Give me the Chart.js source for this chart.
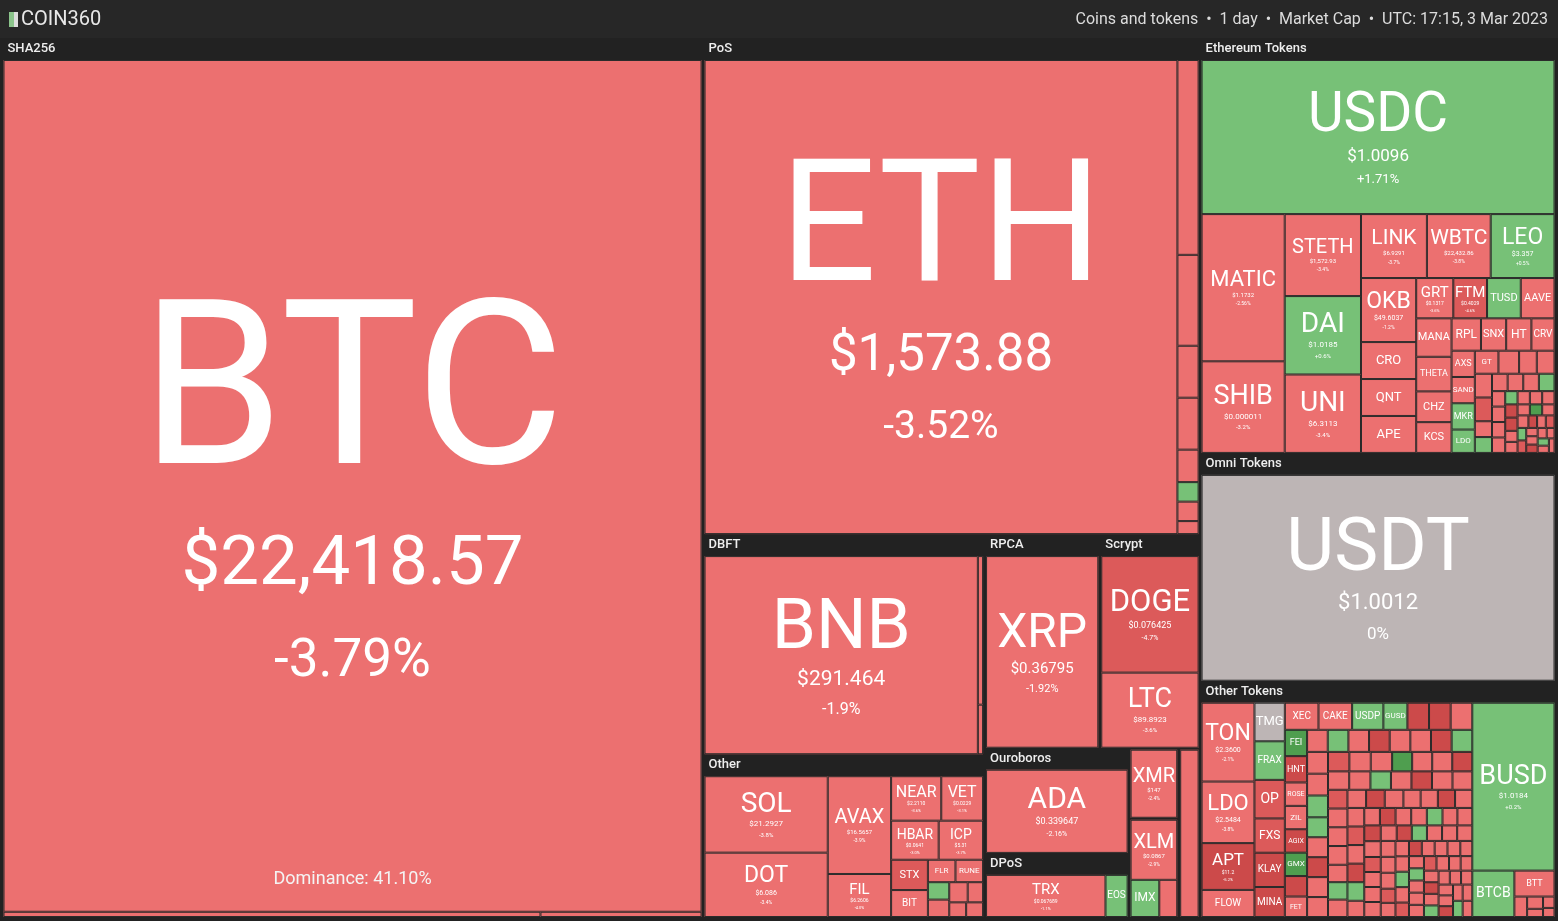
<!DOCTYPE html>
<html><head><meta charset="utf-8">
<script src="https://cdn.jsdelivr.net/npm/chart.js@4/dist/chart.umd.min.js"></script>
<style>html,body{margin:0;padding:0;background:#222;overflow:hidden}#wrap{width:1558px;height:921px}</style>
</head><body><div id="wrap"><canvas id="c"></canvas></div>
<script>
const groupNames = ["SHA256","PoS","Ethereum Tokens","Omni Tokens","DBFT","Other Tokens","Other","RPCA","Scrypt","Ouroboros","DPoS","CryptoNight","Ethash","SCP"];
// [symbol, market cap (area, $B), price label, change %]
const SHA256 = [["BTC",423,"$22,418.57",-3.79],["BCH",2.0,"",-3.1],["BSV",0.6,"",-2.8]];
const PoS = [["ETH",163,"$1,573.88",-3.52],["ATOM",3.0,"",-2.9],["ALGO",1.4,"",-4.1],["XTZ",0.8,"",-3.3],["EGLD",0.8,"",-3.6],["MIOTA",0.5,"",-2.4],["KAVA",0.3,"",1.2],["ROSE",0.3,"",-3.0],["ONE",0.2,"",-2.2]];
const EthTokens = [["USDC",40,"$1.0096",1.71],["MATIC",9.0,"$1.1732",-2.56],["SHIB",5.6,"$0.000011",-3.2],["STETH",4.6,"$1,572.93",-3.4],["DAI",4.4,"$1.0185",0.6],["UNI",4.4,"$6.3113",-3.4],["LINK",3.1,"$6.9291",-3.7],["WBTC",3.0,"$22,432.86",-3.8],["LEO",3.0,"$3.357",0.5],["OKB",2.6,"$49.6037",-1.2],["CRO",1.5,"$0.0659",-3.0],["QNT",1.5,"$139.23",-2.9],["APE",1.5,"$4.8773",-4.1],["GRT",1.1,"$0.1317",-3.6],["FTM",1.0,"$0.4029",-4.6],["TUSD",1.0,"$1.00",0.1],["AAVE",1.0,"$80.91",-3.3],["MANA",1.0,"$0.569",-3.9],["THETA",0.9,"$1.07",-3.2],["CHZ",0.8,"$0.13",-2.5],["KCS",0.8,"$9.10",-1.8],["RPL",0.7,"$44.8",-2.1],["SNX",0.6,"$2.60",-4.0],["HT",0.6,"$4.5",-1.1],["CRV",0.55,"$0.93",-3.7],["AXS",0.45,"",-4.1],["SAND",0.45,"",-4.0],["MKR",0.45,"",1.4],["LDO2",0.4,"",2.1],["GT",0.4,"",-1.0],["1INCH",0.35,"",-3.0],["ENJ",0.3,"",-4.0],["FTT",0.3,"",-2.0],["BAT",0.3,"",-3.3],["IMX2",0.3,"",-5.0],["ZRX",0.2,"",-2.5],["BNT",0.2,"",1.1],["LRC",0.2,"",-3.5],["COMP",0.2,"",-2.9],["YFI",0.2,"",-2.0],["GNO",0.2,"",0.8],["OCEAN",0.15,"",-4.2],["BAL",0.15,"",-3.1],["SUSHI",0.15,"",-3.8],["ANKR",0.15,"",-3.6],["UMA",0.12,"",1.5],["AMP",0.12,"",-2.4],["GLM",0.12,"",-3.0],["CVX",0.12,"",-2.2],["RNDR",0.12,"",-6.0],["ENS",0.12,"",-5.2],["MASK",0.1,"",-3.1],["OMG",0.1,"",-2.8],["KNC",0.1,"",-4.4],["STORJ",0.1,"",3.2],["NEXO",0.1,"",-1.4],["POLY",0.1,"",-3.9],["API3",0.08,"",-6.1],["AUDIO",0.08,"",-3.5],["SKL",0.08,"",-4.8],["ILV",0.08,"",2.2],["GALA",0.08,"",-4.6],["CELR",0.07,"",-3.3],["SLP",0.07,"",-2.9],["REN",0.07,"",-5.5],["BAND",0.07,"",-3.2],["COTI",0.06,"",-4.0],["POWR",0.06,"",1.8],["RLC",0.06,"",-3.6],["TRB",0.06,"",-2.6]];
const Omni = [["USDT",56,"$1.0012",0]];
const DBFT = [["BNB",42,"$291.464",-1.9],["NEO",0.6,"",-2.7],["ONT",0.2,"",-2.0]];
const OtherTokens = [["TON",3.2,"$2.3600",-2.1],["LDO",2.5,"$2.5484",-3.8],["APT",1.9,"$11.2",-5.2],["FLOW",1.1,"$0.96",-3.3],["TMG",0.9,"$9.9",0],["FRAX",0.9,"$1.00",0.2],["OP",0.9,"$2.5",-4.8],["FXS",0.8,"$10.1",-5.0],["KLAY",0.8,"$0.24",-5.1],["MINA",0.7,"$0.81",-5.6],["XEC",0.7,"$0.00003",-2.4],["USDP",0.65,"",1.1],["CAKE",0.7,"$3.8",-2.2],["GUSD",0.5,"",0.2],["CFX",0.45,"",-9.0],["RUNE",0.45,"",-5.1],["IOTX",0.45,"",-3.0],["FEI",0.45,"",3.3],["HNT",0.45,"",-5.2],["ROSE2",0.4,"",-2.9],["ZIL",0.4,"",-3.5],["AGIX",0.4,"",-6.5],["GMX",0.4,"",3.3],["MAGIC",0.35,"",-5.1],["FET",0.35,"",-4.4],["WOO",0.35,"",-3.2],["SSV",0.35,"",2.4],["HOT",0.35,"",-3.0],["JST",0.35,"",-5.5],["SXP",0.35,"",-2.7],["DYDX",0.35,"",-4.3],["BLUR",0.35,"",-6.0],["HNT2",0.35,"",1.8],["ASTR",0.35,"",-3.9],["CELO",0.35,"",-3.4],["PAXG",0.35,"",0.4],["XAUT",0.32,"",0.3],["QTUM",0.32,"",-3.1],["ICX",0.32,"",-5.6],["IOST",0.32,"",-3.3],["WAVES",0.32,"",-2.6],["KSM",0.32,"",-4.7],["ZEN",0.32,"",-3.8],["DCR",0.32,"",-2.2],["LPT",0.3,"",4.2],["SC",0.3,"",-3.6],["RVN2",0.3,"",-4.1],["GLMR",0.3,"",-6.2],["AR2",0.3,"",-3.5],["BORA",0.3,"",-3.0],["OSMO",0.29,"",1.4],["SFP",0.29,"",-3.7],["BONE",0.29,"",-5.3],["ELF",0.29,"",-3.1],["XYM",0.28,"",-2.4],["FLUX",0.28,"",-4.9],["HIVE",0.28,"",-3.4],["ONT2",0.28,"",-2.8],["T",0.28,"",-3.9],["CHSB",0.26,"",-1.9],["MX",0.26,"",1.7],["LUNC",0.26,"",-4.4],["EWT",0.26,"",-3.3],["ACH",0.26,"",-6.3],["CKB",0.26,"",-4.1],["BTG",0.24,"",-3.2],["DGB",0.24,"",-3.6],["STG",0.24,"",-5.7],["JOE",0.24,"",-4.5],["NFT",0.24,"",-2.7],["PEOPLE",0.24,"",-5.0],["RSR",0.24,"",-3.8],["HFT",0.24,"",-6.9],["ID",0.24,"",2.8],["SYN",0.21,"",-4.2],["LQTY",0.21,"",-3.1],["INJ",0.21,"",-5.8],["SNT",0.21,"",-2.9],["ORBS",0.21,"",-3.5],["NMR",0.21,"",1.3],["PLA",0.2,"",-4.0],["DAR",0.2,"",-3.7],["OGN",0.2,"",-5.4],["CTSI",0.2,"",-3.3],["ARPA",0.19,"",-4.8],["SPELL",0.19,"",-3.9],["ALICE",0.19,"",-4.1],["C98",0.19,"",-2.9],["BICO",0.19,"",-3.4],["YGG",0.18,"",-5.1],["RAD",0.18,"",2.1],["ONG",0.18,"",-3.0],["MTL",0.18,"",-4.4],["XVS",0.18,"",-3.8],["DENT",0.18,"",-3.2],["WIN",0.18,"",-2.6],["SUN",0.18,"",-3.5],["STMX",0.16,"",-4.6],["POND",0.16,"",-3.1],["CVC",0.16,"",-2.7],["REQ",0.16,"",-3.9],["PROM",0.16,"",1.2],["TWT",0.16,"",-3.3],["SUPER",0.15,"",-4.9],["HIGH",0.15,"",-5.3],["MOVR",0.15,"",-3.6],["OXT",0.15,"",-2.8],["LOKA",0.15,"",-4.2],["BETA",0.14,"",-3.7],["GHST",0.14,"",-3.1],["KP3R",0.14,"",1.9],["BADGER",0.14,"",-4.0],["RARE",0.14,"",-3.4],["TLM",0.14,"",-3.8],["PYR",0.14,"",-5.0],["MBOX",0.14,"",-3.3],["ALPHA",0.13,"",-4.1],["DODO",0.13,"",-2.9],["QI",0.13,"",-3.6],["FIDA",0.13,"",-6.2],["BEL",0.13,"",-3.0],["AUCTION",0.13,"",2.5],["LINA",0.12,"",-3.9],["TRU",0.12,"",-3.2],["CLV",0.12,"",-4.5],["ATA",0.12,"",-3.7],["FOR",0.12,"",-2.8],["UNFI",0.12,"",-5.1],["PERP",0.12,"",-4.3],["ALPACA",0.12,"",-3.4],["BURGER",0.12,"",1.4],["DIA",0.12,"",-3.1]];
const BEP2 = [["BUSD",10.6,"$1.0184",0.2],["BTCB",1.5,"",0.3],["BTT",0.8,"",-3.1],["WRX",0.2,"",-3.5],["TKO",0.15,"",-4.2],["BAKE",0.1,"",-2.9],["SFUND",0.1,"",-3.7],["ALPINE",0.08,"",-2.2]];
const Other = [["SOL",7.6,"$21.2927",-3.8],["DOT",6.4,"$6.086",-3.4],["AVAX",5.0,"$16.5657",-3.9],["FIL",2.2,"$6.2606",-4.0],["NEAR",1.8,"$2.2110",-3.6],["VET",1.5,"$0.0229",-3.1],["HBAR",1.5,"$0.0641",-3.0],["ICP",1.4,"$5.31",-3.7],["STX",0.9,"$0.81",-5.0],["BIT",0.8,"$0.50",-2.6],["FLR",0.5,"",-3.0],["RUNE2",0.5,"",-4.1],["KAS",0.3,"",1.6],["XDC",0.3,"",-2.3],["MINA2",0.3,"",-3.3],["AR",0.25,"",-4.5],["ZEC",0.2,"",-2.1],["RVN",0.2,"",-4.0]];
const RPCA = [["XRP",17,"$0.36795",-1.92]];
const Scrypt = [["DOGE",9.0,"$0.076425",-4.7],["LTC",5.8,"$89.8923",-3.6]];
const Ouroboros = [["ADA",10.5,"$0.339647",-2.16]];
const DPoS = [["TRX",5.4,"$0.067689",-1.1],["EOS",1.0,"$1.13",1.2]];
const CryptoNight = [["XMR",2.4,"$147",-2.4]];
const Ethash = [["ETC",2.5,"$20.1",-3.0]];
const SCP = [["XLM",2.1,"$0.0867",-2.9],["IMX",0.8,"$0.9",1.9],["DASH",0.5,"$59",-3.7]];
const groupParts = [[SHA256],[PoS],[EthTokens],[Omni],[DBFT],[OtherTokens,BEP2],[Other],[RPCA],[Scrypt],[Ouroboros],[DPoS],[CryptoNight],[Ethash],[SCP]];
const arrangement = {d:"h",c:["SHA256",
  {d:"v",c:["PoS",{d:"h",c:[{d:"v",c:["DBFT","Other"]},{d:"v",c:[{d:"h",c:["RPCA","Scrypt"]},{d:"h",c:[{d:"v",c:["Ouroboros","DPoS"]},{d:"h",c:[{d:"v",c:["CryptoNight","SCP"]},"Ethash"]}]}]}]}]},
  {d:"v",c:["Ethereum Tokens","Omni Tokens","Other Tokens"]}]};

function squarify(items, x, y, w, h){
  const total = items.reduce((s,i)=>s+i.v,0); const out=[];
  const scale = (w*h)/total;
  let list = items.map(i=>({...i,a:i.v*scale}));
  let rx=x, ry=y, rw=w, rh=h;
  function worst(row, side){ const s=row.reduce((a,b)=>a+b.a,0); let mx=-Infinity,mn=Infinity; row.forEach(r=>{mx=Math.max(mx,r.a);mn=Math.min(mn,r.a);}); return Math.max(side*side*mx/(s*s), (s*s)/(side*side*mn)); }
  while(list.length){
    const side=Math.min(rw,rh); let row=[list[0]]; let i=1;
    while(i<list.length){ const nr=row.concat([list[i]]); if(worst(nr,side)<=worst(row,side)){row=nr;i++;} else break; }
    list=list.slice(i);
    const s=row.reduce((a,b)=>a+b.a,0);
    if(rw>=rh){ const cw=s/rh; let cy=ry; row.forEach(r=>{const ch=r.a/cw; out.push({...r,x:rx,y:cy,w:cw,h:ch}); cy+=ch;}); rx+=cw; rw-=cw; }
    else { const ch=s/rw; let cx=rx; row.forEach(r=>{const cw=r.a/ch; out.push({...r,x:cx,y:ry,w:cw,h:ch}); cx+=cw;}); ry+=ch; rh-=ch; }
  }
  return out;
}
const sum = arr => arr.reduce((s,r)=>s+r[1],0);
const gval = n => groupParts[groupNames.indexOf(n)].reduce((s,p)=>s+sum(p),0);
function nval(node){ return typeof node==="string" ? gval(node) : node.c.reduce((s,k)=>s+nval(k),0); }
function arrange(node,x,y,w,h,out){
  if(typeof node==="string"){ out.push({name:node,x,y,w,h}); return out; }
  const tot=nval(node); let off=0;
  node.c.forEach(k=>{ const f=nval(k)/tot;
    if(node.d==="h"){ arrange(k,x+off,y,w*f,h,out); off+=w*f; } else { arrange(k,x,y+off,w,h*f,out); off+=h*f; } });
  return out;
}
function color(c){ if(c===0) return "#bdb5b5"; if(c>3) return "#4f9e4f"; if(c>0) return "#77c177"; if(c<-5) return "#cc4a4a"; if(c<-4.5) return "#dc5a5a"; return "#ec7070"; }

const treemapPlugin = {
  id:"tm",
  afterDraw(chart){
    const ctx=chart.ctx, xs=chart.scales.x, ys=chart.scales.y;
    const P=(x,y)=>[xs.getPixelForValue(x), ys.getPixelForValue(y)];
    ctx.save();
    ctx.fillStyle="#272727"; let [a,b]=P(0,0),[c,d]=P(1558,38); ctx.fillRect(a,b,c-a,d-b);
    ctx.fillStyle="#8bc48b"; ctx.fillRect(P(9,0)[0],P(0,12)[1],5,15); ctx.fillStyle="#ddd"; ctx.fillRect(P(14,0)[0],P(0,12)[1],4,15);
    ctx.textBaseline="middle"; ctx.font="20px Roboto"; ctx.fillStyle="#e8e8e8"; ctx.textAlign="left"; ctx.fillText("COIN360",P(21,0)[0],P(0,20)[1]);
    ctx.font="16px Roboto"; ctx.textAlign="right"; ctx.fillStyle="#dcdcdc";
    ctx.fillText("Coins and tokens  •  1 day  •  Market Cap  •  UTC: 17:15, 3 Mar 2023",P(1548,0)[0],P(0,20)[1]);
    const gl = arrange(arrangement, 2, 40, 1554, 879, []);
    gl.forEach(g=>{
      const parts = groupParts[groupNames.indexOf(g.name)];
      const gx=g.x+1.5, gy=g.y, gw=g.w-3, gh=g.h-2;
      const hasHdr = gh>60 && gw>70;
      const hdr = hasHdr?20:0;
      if(hasHdr){ ctx.fillStyle="#eee"; ctx.font="500 13px Roboto"; ctx.textAlign="left"; ctx.textBaseline="middle";
        const [px,py]=P(gx+4,gy+9); ctx.fillText(g.name,px,py); }
      const gtot = parts.reduce((s,p)=>s+sum(p),0); let off=0;
      parts.forEach(part=>{
        const pw = gw*sum(part)/gtot;
        const cells = squarify(part.map(r=>({sym:r[0].replace(/\d$/,""),v:r[1],price:r[2],ch:r[3]})).sort((p,q)=>q.v-p.v), gx+off, gy+hdr, pw, gh-hdr);
        off += pw;
        cells.forEach(cl=>{
          const [x0,y0]=P(cl.x,cl.y),[x1,y1]=P(cl.x+cl.w,cl.y+cl.h);
          ctx.fillStyle=color(cl.ch); ctx.fillRect(x0,y0,x1-x0,y1-y0);
          ctx.strokeStyle="#2b2b2b"; ctx.lineWidth=1; ctx.strokeRect(x0+0.5,y0+0.5,x1-x0-1,y1-y0-1);
          const w=x1-x0,h=y1-y0; if(w<22||h<14) return;
          let fs=Math.min(w*0.88/(cl.sym.length*0.68), h*0.36, 230);
          if(fs<6) return;
          const cx=(x0+x1)/2; const showSub = fs>=14 && cl.price;
          const cy = showSub ? y0+h*0.5-fs*0.35 : (y0+y1)/2;
          ctx.fillStyle="#fff"; ctx.textAlign="center"; ctx.textBaseline="middle";
          ctx.font=`${Math.round(fs)}px Roboto`; ctx.fillText(cl.sym,cx,cy);
          if(showSub){
            const ps=Math.max(5,fs*0.3);
            ctx.font=`${Math.round(ps)}px Roboto`; ctx.fillText(cl.price,cx,cy+fs*0.52+ps*0.6);
            const cs=Math.max(4,fs*0.23);
            ctx.font=`${Math.round(cs)}px Roboto`;
            const txt=(cl.ch>0?"+":"")+(cl.ch===0?"0":cl.ch.toFixed(2).replace(/0$/,""))+"%";
            ctx.fillText(txt,cx,cy+fs*0.52+ps*1.3+cs*0.9);
            if(cl.sym==="BTC"){ ctx.font="18px Roboto"; ctx.fillStyle="#f4f4f4"; ctx.fillText("Dominance: 41.10%",cx,y1-32); }
          }
        });
      });
    });
    ctx.restore();
  }
};
new Chart(document.getElementById("c"),{
  type:"scatter",
  data:{datasets:[{data:[]}]},
  options:{responsive:true,maintainAspectRatio:false,animation:false,
    layout:{padding:0},
    plugins:{legend:{display:false},tooltip:{enabled:false}},
    scales:{x:{type:"linear",min:0,max:1558,display:false},y:{type:"linear",min:0,max:921,reverse:true,display:false}}},
  plugins:[treemapPlugin]
});
</script></body></html>
